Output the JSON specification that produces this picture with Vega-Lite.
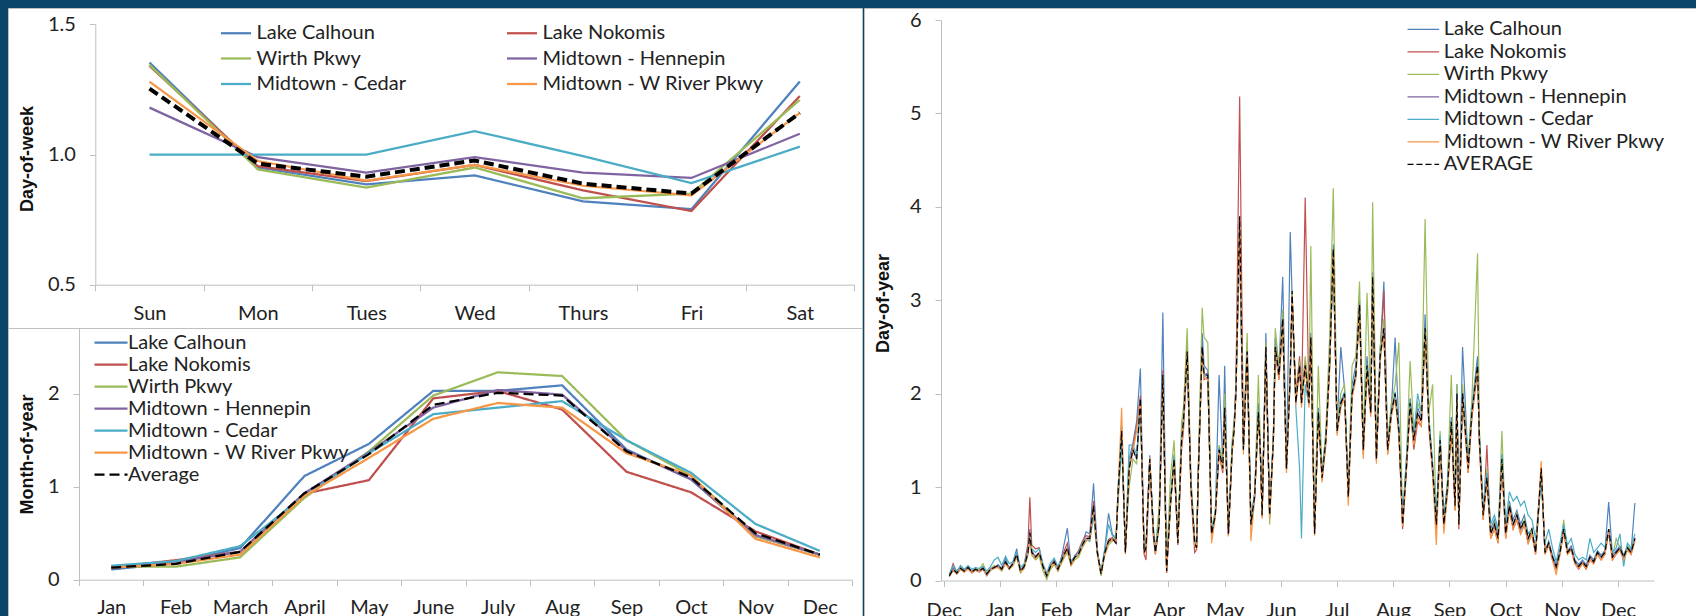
{
"$schema":"https://vega.github.io/schema/vega-lite/v6.json",
"background":"#0B4568",
"padding":{"top":7,"left":7,"right":0,"bottom":0},
"config":{
"view":{"fill":"white","stroke":"#BFBFBF","strokeWidth":1},
"font":"Lato",
"axis":{"grid":false,"domainColor":"#BFBFBF","tickColor":"#BFBFBF","tickSize":6,"labelFont":"Lato","labelFontSize":20,"labelColor":"#222222","titleFont":"Liberation Sans","titleFontSize":18,"titleFontWeight":"bold","titleColor":"#111111","labelPadding":14},
"axisX":{"labelBaseline":"alphabetic","labelAngle":0,"labelFlush":false,"labelOverlap":false},
"legend":{"labelFont":"Lato","labelFontSize":20,"labelColor":"#222222","padding":0}
},
"datasets":{
"names":[{"k":"C","series":"Lake Calhoun"},{"k":"N","series":"Lake Nokomis"},{"k":"W","series":"Wirth Pkwy"},{"k":"H","series":"Midtown - Hennepin"},{"k":"M","series":"Midtown - Cedar"},{"k":"R","series":"Midtown - W River Pkwy"},{"k":"A","series":"Average"}],
"names2":[{"k":"C","series":"Lake Calhoun"},{"k":"N","series":"Lake Nokomis"},{"k":"W","series":"Wirth Pkwy"},{"k":"H","series":"Midtown - Hennepin"},{"k":"M","series":"Midtown - Cedar"},{"k":"R","series":"Midtown - W River Pkwy"},{"k":"A","series":"AVERAGE"}],
"dow":[
{"x":0,"d":"Sun","C":1.353,"N":1.34,"W":1.344,"H":1.18,"M":1.0,"R":1.28,"A":1.253},
{"x":1,"d":"Mon","C":0.95,"N":0.955,"W":0.943,"H":0.99,"M":1.0,"R":0.975,"A":0.965},
{"x":2,"d":"Tues","C":0.885,"N":0.898,"W":0.873,"H":0.93,"M":1.0,"R":0.9,"A":0.915},
{"x":3,"d":"Wed","C":0.92,"N":0.96,"W":0.95,"H":0.99,"M":1.09,"R":0.96,"A":0.977},
{"x":4,"d":"Thurs","C":0.82,"N":0.862,"W":0.832,"H":0.93,"M":0.994,"R":0.88,"A":0.888},
{"x":5,"d":"Fri","C":0.79,"N":0.783,"W":0.85,"H":0.91,"M":0.89,"R":0.843,"A":0.85},
{"x":6,"d":"Sat","C":1.28,"N":1.225,"W":1.21,"H":1.08,"M":1.03,"R":1.16,"A":1.16}
],
"moy":[
{"x":0,"m":"Jan","C":0.11,"N":0.13,"W":0.14,"H":0.14,"M":0.15,"R":0.13,"A":0.13},
{"x":1,"m":"Feb","C":0.18,"N":0.21,"W":0.14,"H":0.19,"M":0.2,"R":0.17,"A":0.17},
{"x":2,"m":"March","C":0.34,"N":0.3,"W":0.24,"H":0.3,"M":0.36,"R":0.27,"A":0.3},
{"x":3,"m":"April","C":1.115,"N":0.925,"W":0.88,"H":0.93,"M":0.9,"R":0.9,"A":0.93},
{"x":4,"m":"May","C":1.46,"N":1.07,"W":1.38,"H":1.37,"M":1.36,"R":1.31,"A":1.35},
{"x":5,"m":"June","C":2.03,"N":1.95,"W":1.98,"H":1.85,"M":1.78,"R":1.73,"A":1.88},
{"x":6,"m":"July","C":2.03,"N":2.03,"W":2.23,"H":2.04,"M":1.85,"R":1.9,"A":2.01},
{"x":7,"m":"Aug","C":2.09,"N":1.83,"W":2.19,"H":1.99,"M":1.92,"R":1.85,"A":1.98},
{"x":8,"m":"Sep","C":1.4,"N":1.16,"W":1.5,"H":1.39,"M":1.5,"R":1.36,"A":1.38},
{"x":9,"m":"Oct","C":1.08,"N":0.94,"W":1.12,"H":1.08,"M":1.15,"R":1.12,"A":1.1},
{"x":10,"m":"Nov","C":0.47,"N":0.52,"W":0.47,"H":0.48,"M":0.6,"R":0.44,"A":0.5},
{"x":11,"m":"Dec","C":0.27,"N":0.27,"W":0.27,"H":0.27,"M":0.31,"R":0.24,"A":0.27}
],
"doy":[
{"i":3,"A":0.05,"C":0.06,"N":0.04,"W":0.05,"H":0.06,"M":0.07,"R":0.04},
{"i":5,"A":0.12,"C":0.14,"N":0.18,"W":0.10,"H":0.12,"M":0.16,"R":0.11},
{"i":7,"A":0.08,"C":0.07,"N":0.09,"W":0.10,"H":0.08,"M":0.10,"R":0.07},
{"i":9,"A":0.13,"C":0.12,"N":0.15,"W":0.14,"H":0.13,"M":0.16,"R":0.12},
{"i":11,"A":0.10,"C":0.09,"N":0.11,"W":0.12,"H":0.10,"M":0.12,"R":0.09},
{"i":13,"A":0.14,"C":0.15,"N":0.13,"W":0.15,"H":0.14,"M":0.16,"R":0.12},
{"i":15,"A":0.09,"C":0.08,"N":0.10,"W":0.09,"H":0.09,"M":0.12,"R":0.08},
{"i":17,"A":0.12,"C":0.11,"N":0.13,"W":0.13,"H":0.12,"M":0.14,"R":0.11},
{"i":19,"A":0.10,"C":0.09,"N":0.11,"W":0.12,"H":0.10,"M":0.13,"R":0.09},
{"i":21,"A":0.13,"C":0.12,"N":0.14,"W":0.18,"H":0.13,"M":0.15,"R":0.12},
{"i":23,"A":0.07,"C":0.05,"N":0.06,"W":0.08,"H":0.07,"M":0.10,"R":0.06},
{"i":25,"A":0.12,"C":0.11,"N":0.13,"W":0.12,"H":0.12,"M":0.15,"R":0.11},
{"i":27,"A":0.14,"C":0.13,"N":0.15,"W":0.16,"H":0.14,"M":0.22,"R":0.13},
{"i":29,"A":0.16,"C":0.17,"N":0.15,"W":0.14,"H":0.16,"M":0.25,"R":0.14},
{"i":31,"A":0.12,"C":0.13,"N":0.12,"W":0.10,"H":0.12,"M":0.16,"R":0.11},
{"i":33,"A":0.20,"C":0.24,"N":0.19,"W":0.18,"H":0.20,"M":0.26,"R":0.18},
{"i":35,"A":0.13,"C":0.12,"N":0.14,"W":0.12,"H":0.13,"M":0.18,"R":0.12},
{"i":37,"A":0.18,"C":0.20,"N":0.17,"W":0.16,"H":0.18,"M":0.20,"R":0.16},
{"i":39,"A":0.28,"C":0.34,"N":0.27,"W":0.25,"H":0.28,"M":0.30,"R":0.26},
{"i":41,"A":0.10,"C":0.09,"N":0.10,"W":0.08,"H":0.11,"M":0.14,"R":0.09},
{"i":43,"A":0.15,"C":0.14,"N":0.17,"W":0.13,"H":0.15,"M":0.18,"R":0.14},
{"i":45,"A":0.30,"C":0.35,"N":0.40,"W":0.28,"H":0.30,"M":0.33,"R":0.28},
{"i":46,"A":0.51,"C":0.55,"N":0.89,"W":0.45,"H":0.48,"M":0.50,"R":0.46},
{"i":47,"A":0.30,"C":0.32,"N":0.38,"W":0.27,"H":0.31,"M":0.34,"R":0.28},
{"i":49,"A":0.25,"C":0.24,"N":0.34,"W":0.22,"H":0.26,"M":0.30,"R":0.24},
{"i":51,"A":0.30,"C":0.28,"N":0.35,"W":0.26,"H":0.30,"M":0.34,"R":0.29},
{"i":53,"A":0.15,"C":0.14,"N":0.16,"W":0.10,"H":0.15,"M":0.18,"R":0.14},
{"i":55,"A":0.05,"C":0.04,"N":0.06,"W":0.01,"H":0.06,"M":0.08,"R":0.05},
{"i":57,"A":0.15,"C":0.14,"N":0.16,"W":0.12,"H":0.15,"M":0.19,"R":0.14},
{"i":59,"A":0.20,"C":0.22,"N":0.21,"W":0.17,"H":0.20,"M":0.24,"R":0.19},
{"i":61,"A":0.12,"C":0.11,"N":0.13,"W":0.10,"H":0.12,"M":0.15,"R":0.11},
{"i":63,"A":0.22,"C":0.26,"N":0.25,"W":0.19,"H":0.22,"M":0.24,"R":0.20},
{"i":66,"A":0.35,"C":0.56,"N":0.40,"W":0.30,"H":0.35,"M":0.33,"R":0.33},
{"i":68,"A":0.18,"C":0.17,"N":0.20,"W":0.16,"H":0.18,"M":0.20,"R":0.16},
{"i":70,"A":0.25,"C":0.27,"N":0.26,"W":0.22,"H":0.25,"M":0.26,"R":0.24},
{"i":72,"A":0.28,"C":0.30,"N":0.32,"W":0.25,"H":0.28,"M":0.30,"R":0.27},
{"i":74,"A":0.38,"C":0.40,"N":0.42,"W":0.35,"H":0.38,"M":0.40,"R":0.36},
{"i":76,"A":0.45,"C":0.52,"N":0.48,"W":0.42,"H":0.45,"M":0.44,"R":0.43},
{"i":78,"A":0.45,"C":0.50,"N":0.47,"W":0.44,"H":0.45,"M":0.42,"R":0.44},
{"i":80,"A":0.80,"C":1.04,"N":0.85,"W":0.72,"H":0.78,"M":0.70,"R":0.77},
{"i":82,"A":0.30,"C":0.32,"N":0.33,"W":0.28,"H":0.31,"M":0.30,"R":0.29},
{"i":84,"A":0.07,"C":0.08,"N":0.06,"W":0.05,"H":0.08,"M":0.10,"R":0.07},
{"i":86,"A":0.30,"C":0.34,"N":0.31,"W":0.27,"H":0.30,"M":0.33,"R":0.29},
{"i":88,"A":0.42,"C":0.72,"N":0.44,"W":0.38,"H":0.42,"M":0.60,"R":0.40},
{"i":90,"A":0.45,"C":0.50,"N":0.46,"W":0.42,"H":0.45,"M":0.48,"R":0.44},
{"i":92,"A":0.40,"C":0.44,"N":0.42,"W":0.50,"H":0.40,"M":0.45,"R":0.42},
{"i":93,"A":0.90,"C":0.95,"N":0.92,"W":0.80,"H":0.88,"M":0.85,"R":0.93},
{"i":95,"A":1.60,"C":1.65,"N":1.55,"W":1.45,"H":1.58,"M":1.50,"R":1.85},
{"i":97,"A":0.30,"C":0.33,"N":0.31,"W":0.40,"H":0.30,"M":0.35,"R":0.28},
{"i":99,"A":1.20,"C":1.30,"N":1.22,"W":1.00,"H":1.18,"M":1.45,"R":1.20},
{"i":101,"A":1.40,"C":1.47,"N":1.42,"W":1.30,"H":1.40,"M":1.45,"R":1.38},
{"i":103,"A":1.30,"C":1.70,"N":1.65,"W":1.25,"H":1.30,"M":1.35,"R":1.60},
{"i":105,"A":1.95,"C":2.27,"N":1.98,"W":1.85,"H":1.92,"M":1.90,"R":1.94},
{"i":107,"A":0.30,"C":0.32,"N":0.28,"W":0.35,"H":0.31,"M":0.33,"R":0.29},
{"i":108,"A":0.35,"C":0.36,"N":0.22,"W":0.38,"H":0.35,"M":0.38,"R":0.34},
{"i":110,"A":1.30,"C":1.34,"N":1.22,"W":1.25,"H":1.30,"M":1.28,"R":1.32},
{"i":112,"A":0.50,"C":0.52,"N":0.45,"W":0.55,"H":0.50,"M":0.55,"R":0.48},
{"i":113,"A":0.30,"C":0.32,"N":0.28,"W":0.33,"H":0.30,"M":0.33,"R":0.29},
{"i":115,"A":0.60,"C":0.63,"N":0.58,"W":0.80,"H":0.60,"M":0.65,"R":0.58},
{"i":117,"A":2.20,"C":2.87,"N":2.25,"W":2.15,"H":2.15,"M":2.10,"R":2.18},
{"i":119,"A":0.10,"C":0.10,"N":0.08,"W":0.15,"H":0.11,"M":0.12,"R":0.09},
{"i":121,"A":0.80,"C":0.85,"N":0.78,"W":1.10,"H":0.80,"M":0.82,"R":0.78},
{"i":123,"A":1.30,"C":1.35,"N":1.28,"W":1.50,"H":1.30,"M":1.32,"R":1.28},
{"i":125,"A":0.40,"C":0.42,"N":0.38,"W":0.45,"H":0.40,"M":0.42,"R":0.39},
{"i":127,"A":1.50,"C":1.55,"N":1.40,"W":1.70,"H":1.50,"M":1.52,"R":1.45},
{"i":128,"A":1.70,"C":1.75,"N":1.60,"W":1.85,"H":1.70,"M":1.72,"R":1.68},
{"i":130,"A":2.45,"C":2.55,"N":2.40,"W":2.70,"H":2.42,"M":2.35,"R":2.45},
{"i":132,"A":1.00,"C":1.05,"N":0.95,"W":1.10,"H":1.00,"M":1.02,"R":0.98},
{"i":134,"A":0.40,"C":0.42,"N":0.30,"W":0.45,"H":0.40,"M":0.43,"R":0.38},
{"i":135,"A":0.35,"C":0.37,"N":0.33,"W":0.38,"H":0.35,"M":0.38,"R":0.34},
{"i":136,"A":1.20,"C":1.25,"N":1.18,"W":1.30,"H":1.20,"M":1.22,"R":1.18},
{"i":138,"A":2.50,"C":2.65,"N":2.48,"W":2.92,"H":2.50,"M":2.45,"R":2.45},
{"i":139,"A":2.20,"C":2.30,"N":2.15,"W":2.60,"H":2.20,"M":2.18,"R":2.17},
{"i":141,"A":2.20,"C":2.25,"N":2.18,"W":2.55,"H":2.22,"M":2.20,"R":2.15},
{"i":143,"A":0.50,"C":0.52,"N":0.48,"W":0.55,"H":0.50,"M":0.55,"R":0.40},
{"i":145,"A":0.70,"C":0.72,"N":0.68,"W":0.75,"H":0.70,"M":0.72,"R":0.68},
{"i":147,"A":1.40,"C":2.20,"N":1.35,"W":1.45,"H":1.40,"M":1.42,"R":1.38},
{"i":149,"A":1.20,"C":1.25,"N":1.15,"W":1.30,"H":1.20,"M":1.22,"R":1.18},
{"i":150,"A":1.85,"C":2.30,"N":1.80,"W":2.00,"H":1.85,"M":1.83,"R":1.82},
{"i":152,"A":0.50,"C":0.52,"N":0.48,"W":0.55,"H":0.50,"M":0.55,"R":0.47},
{"i":154,"A":1.40,"C":1.45,"N":1.38,"W":1.50,"H":1.40,"M":1.42,"R":1.38},
{"i":155,"A":1.60,"C":1.65,"N":1.60,"W":1.70,"H":1.60,"M":1.62,"R":1.58},
{"i":156,"A":2.00,"C":2.10,"N":2.10,"W":2.05,"H":2.00,"M":2.00,"R":1.98},
{"i":158,"A":3.90,"C":3.85,"N":5.18,"W":3.80,"H":3.70,"M":3.60,"R":3.80},
{"i":160,"A":1.40,"C":1.45,"N":1.50,"W":1.40,"H":1.40,"M":1.42,"R":1.35},
{"i":162,"A":2.45,"C":2.55,"N":2.45,"W":2.65,"H":2.45,"M":2.40,"R":2.40},
{"i":164,"A":0.60,"C":0.65,"N":0.58,"W":0.62,"H":0.60,"M":0.62,"R":0.42},
{"i":166,"A":0.90,"C":0.95,"N":0.88,"W":0.92,"H":0.90,"M":0.92,"R":0.88},
{"i":168,"A":1.80,"C":1.90,"N":1.78,"W":2.20,"H":1.80,"M":1.82,"R":1.75},
{"i":169,"A":1.40,"C":1.45,"N":1.38,"W":1.50,"H":1.40,"M":1.42,"R":1.38},
{"i":170,"A":0.70,"C":0.72,"N":0.68,"W":0.72,"H":0.70,"M":0.72,"R":0.66},
{"i":172,"A":2.50,"C":2.65,"N":2.50,"W":2.55,"H":2.48,"M":2.45,"R":2.45},
{"i":174,"A":0.70,"C":0.72,"N":0.68,"W":0.60,"H":0.70,"M":0.72,"R":0.66},
{"i":176,"A":1.50,"C":1.55,"N":1.48,"W":1.60,"H":1.50,"M":1.52,"R":1.45},
{"i":177,"A":2.50,"C":2.60,"N":2.45,"W":2.70,"H":2.50,"M":2.45,"R":2.48},
{"i":179,"A":2.20,"C":2.28,"N":2.15,"W":2.30,"H":2.20,"M":2.18,"R":2.15},
{"i":181,"A":2.80,"C":3.25,"N":2.75,"W":2.90,"H":2.80,"M":2.70,"R":2.75},
{"i":183,"A":1.20,"C":1.25,"N":1.18,"W":1.30,"H":1.20,"M":1.22,"R":1.15},
{"i":185,"A":2.20,"C":3.73,"N":2.20,"W":2.30,"H":2.20,"M":2.15,"R":2.15},
{"i":186,"A":3.10,"C":3.05,"N":3.00,"W":3.10,"H":3.00,"M":3.00,"R":3.05},
{"i":188,"A":1.90,"C":1.95,"N":2.00,"W":1.95,"H":1.90,"M":1.85,"R":1.88},
{"i":190,"A":2.30,"C":2.35,"N":2.40,"W":2.35,"H":2.30,"M":1.20,"R":2.28},
{"i":191,"A":1.90,"C":1.95,"N":1.90,"W":1.95,"H":1.90,"M":0.45,"R":1.85},
{"i":193,"A":2.30,"C":2.35,"N":4.10,"W":2.40,"H":2.30,"M":2.10,"R":2.28},
{"i":195,"A":1.90,"C":1.95,"N":1.90,"W":2.00,"H":1.90,"M":1.88,"R":1.85},
{"i":196,"A":2.60,"C":2.65,"N":2.60,"W":3.58,"H":2.60,"M":2.55,"R":2.58},
{"i":198,"A":0.50,"C":0.52,"N":0.55,"W":0.55,"H":0.50,"M":0.55,"R":0.48},
{"i":200,"A":1.80,"C":1.85,"N":1.78,"W":2.30,"H":1.80,"M":1.82,"R":1.75},
{"i":202,"A":1.10,"C":1.15,"N":1.08,"W":1.15,"H":1.10,"M":1.12,"R":1.05},
{"i":204,"A":1.50,"C":1.55,"N":1.48,"W":1.60,"H":1.50,"M":1.52,"R":1.45},
{"i":206,"A":2.30,"C":2.35,"N":2.25,"W":2.60,"H":2.30,"M":2.28,"R":2.25},
{"i":208,"A":3.55,"C":3.60,"N":3.50,"W":4.20,"H":3.50,"M":3.40,"R":3.50},
{"i":210,"A":1.60,"C":1.65,"N":1.58,"W":1.70,"H":1.60,"M":1.62,"R":1.55},
{"i":212,"A":1.90,"C":2.50,"N":1.88,"W":2.00,"H":1.90,"M":1.92,"R":1.85},
{"i":214,"A":2.00,"C":2.05,"N":1.98,"W":2.10,"H":2.00,"M":2.02,"R":1.95},
{"i":216,"A":0.90,"C":0.95,"N":0.88,"W":0.95,"H":0.90,"M":0.92,"R":0.80},
{"i":218,"A":2.00,"C":2.10,"N":1.98,"W":2.30,"H":2.00,"M":2.02,"R":1.95},
{"i":220,"A":2.20,"C":2.30,"N":2.18,"W":2.40,"H":2.20,"M":2.22,"R":2.15},
{"i":222,"A":2.95,"C":3.00,"N":2.90,"W":3.20,"H":2.95,"M":2.90,"R":2.90},
{"i":224,"A":1.40,"C":1.45,"N":1.35,"W":1.50,"H":1.40,"M":1.42,"R":1.30},
{"i":226,"A":2.30,"C":2.40,"N":2.28,"W":3.08,"H":2.30,"M":2.32,"R":2.25},
{"i":228,"A":1.80,"C":1.85,"N":1.78,"W":1.90,"H":1.80,"M":1.82,"R":1.75},
{"i":229,"A":3.25,"C":3.30,"N":3.20,"W":4.05,"H":3.20,"M":3.15,"R":3.20},
{"i":231,"A":1.30,"C":1.35,"N":1.28,"W":1.40,"H":1.30,"M":1.32,"R":1.25},
{"i":233,"A":2.40,"C":2.45,"N":2.38,"W":2.50,"H":2.40,"M":2.42,"R":2.35},
{"i":235,"A":2.70,"C":3.20,"N":3.10,"W":2.80,"H":2.70,"M":2.65,"R":2.65},
{"i":237,"A":1.40,"C":1.45,"N":1.35,"W":1.50,"H":1.40,"M":1.42,"R":1.35},
{"i":239,"A":1.80,"C":1.85,"N":1.78,"W":1.90,"H":1.80,"M":1.82,"R":1.75},
{"i":241,"A":2.00,"C":2.60,"N":1.98,"W":2.10,"H":2.00,"M":2.02,"R":1.95},
{"i":243,"A":1.60,"C":1.65,"N":1.58,"W":2.55,"H":1.60,"M":1.62,"R":1.55},
{"i":245,"A":0.60,"C":0.65,"N":0.55,"W":0.62,"H":0.60,"M":0.70,"R":0.58},
{"i":247,"A":1.20,"C":1.25,"N":1.18,"W":1.30,"H":1.20,"M":1.30,"R":1.15},
{"i":249,"A":1.90,"C":1.95,"N":1.88,"W":2.35,"H":1.90,"M":1.92,"R":1.85},
{"i":251,"A":1.50,"C":1.55,"N":1.40,"W":1.60,"H":1.50,"M":1.55,"R":1.45},
{"i":253,"A":1.80,"C":1.85,"N":1.70,"W":1.90,"H":1.80,"M":2.00,"R":1.75},
{"i":255,"A":1.70,"C":1.75,"N":1.65,"W":1.80,"H":1.70,"M":1.80,"R":1.65},
{"i":257,"A":2.70,"C":2.85,"N":2.65,"W":3.87,"H":2.70,"M":2.65,"R":2.65},
{"i":259,"A":1.70,"C":1.75,"N":1.65,"W":1.80,"H":1.70,"M":1.75,"R":1.65},
{"i":261,"A":1.20,"C":1.25,"N":1.15,"W":2.10,"H":1.20,"M":1.25,"R":1.15},
{"i":263,"A":0.60,"C":0.65,"N":0.55,"W":0.62,"H":0.60,"M":0.65,"R":0.38},
{"i":265,"A":1.50,"C":1.55,"N":1.45,"W":1.60,"H":1.50,"M":1.55,"R":1.45},
{"i":267,"A":0.60,"C":0.65,"N":0.55,"W":0.62,"H":0.60,"M":0.65,"R":0.50},
{"i":269,"A":1.00,"C":1.05,"N":0.95,"W":1.10,"H":1.00,"M":1.05,"R":0.95},
{"i":271,"A":1.70,"C":1.75,"N":1.65,"W":2.20,"H":1.70,"M":1.72,"R":1.65},
{"i":273,"A":0.80,"C":0.85,"N":0.75,"W":0.82,"H":0.80,"M":0.85,"R":0.75},
{"i":274,"A":2.00,"C":2.10,"N":1.95,"W":2.10,"H":2.00,"M":2.00,"R":1.95},
{"i":275,"A":0.60,"C":0.65,"N":0.55,"W":0.65,"H":0.60,"M":0.65,"R":0.58},
{"i":277,"A":2.00,"C":2.50,"N":1.95,"W":2.10,"H":2.00,"M":2.00,"R":1.95},
{"i":280,"A":1.20,"C":1.25,"N":1.15,"W":1.30,"H":1.20,"M":1.25,"R":1.15},
{"i":282,"A":1.80,"C":1.85,"N":1.75,"W":1.95,"H":1.80,"M":1.85,"R":1.75},
{"i":285,"A":2.30,"C":2.40,"N":2.25,"W":3.50,"H":2.30,"M":2.30,"R":2.25},
{"i":286,"A":1.50,"C":1.55,"N":1.45,"W":1.60,"H":1.50,"M":1.55,"R":1.45},
{"i":288,"A":0.70,"C":0.75,"N":0.65,"W":0.72,"H":0.70,"M":0.80,"R":0.65},
{"i":290,"A":1.10,"C":1.15,"N":1.45,"W":1.20,"H":1.10,"M":1.15,"R":1.05},
{"i":292,"A":0.50,"C":0.55,"N":0.45,"W":0.52,"H":0.50,"M":0.60,"R":0.45},
{"i":294,"A":0.60,"C":0.65,"N":0.55,"W":0.62,"H":0.60,"M":0.70,"R":0.55},
{"i":296,"A":0.45,"C":0.50,"N":0.40,"W":0.48,"H":0.45,"M":0.55,"R":0.40},
{"i":298,"A":1.30,"C":1.35,"N":1.25,"W":1.60,"H":1.30,"M":1.35,"R":1.25},
{"i":300,"A":0.50,"C":0.55,"N":0.45,"W":0.52,"H":0.50,"M":0.60,"R":0.45},
{"i":302,"A":0.80,"C":0.85,"N":0.75,"W":0.82,"H":0.80,"M":0.95,"R":0.75},
{"i":304,"A":0.60,"C":0.65,"N":0.55,"W":0.60,"H":0.60,"M":0.85,"R":0.55},
{"i":306,"A":0.70,"C":0.75,"N":0.65,"W":0.72,"H":0.70,"M":0.90,"R":0.65},
{"i":308,"A":0.55,"C":0.60,"N":0.50,"W":0.55,"H":0.55,"M":0.80,"R":0.50},
{"i":310,"A":0.65,"C":0.70,"N":0.60,"W":0.65,"H":0.60,"M":0.85,"R":0.60},
{"i":312,"A":0.45,"C":0.50,"N":0.40,"W":0.45,"H":0.45,"M":0.70,"R":0.40},
{"i":314,"A":0.55,"C":0.55,"N":0.50,"W":0.55,"H":0.50,"M":0.65,"R":0.50},
{"i":316,"A":0.30,"C":0.32,"N":0.28,"W":0.30,"H":0.30,"M":0.45,"R":0.28},
{"i":319,"A":1.20,"C":1.15,"N":1.20,"W":1.10,"H":1.15,"M":1.10,"R":1.28},
{"i":321,"A":0.30,"C":0.32,"N":0.28,"W":0.30,"H":0.30,"M":0.40,"R":0.28},
{"i":323,"A":0.40,"C":0.42,"N":0.38,"W":0.40,"H":0.40,"M":0.55,"R":0.38},
{"i":325,"A":0.25,"C":0.27,"N":0.22,"W":0.25,"H":0.25,"M":0.35,"R":0.22},
{"i":327,"A":0.15,"C":0.17,"N":0.12,"W":0.14,"H":0.15,"M":0.20,"R":0.06},
{"i":329,"A":0.30,"C":0.32,"N":0.28,"W":0.30,"H":0.30,"M":0.40,"R":0.28},
{"i":331,"A":0.55,"C":0.58,"N":0.52,"W":0.65,"H":0.55,"M":0.60,"R":0.52},
{"i":333,"A":0.30,"C":0.32,"N":0.28,"W":0.30,"H":0.30,"M":0.38,"R":0.28},
{"i":335,"A":0.35,"C":0.37,"N":0.33,"W":0.35,"H":0.35,"M":0.45,"R":0.33},
{"i":337,"A":0.20,"C":0.22,"N":0.18,"W":0.20,"H":0.20,"M":0.28,"R":0.18},
{"i":339,"A":0.15,"C":0.17,"N":0.12,"W":0.15,"H":0.15,"M":0.22,"R":0.13},
{"i":341,"A":0.20,"C":0.22,"N":0.18,"W":0.20,"H":0.20,"M":0.25,"R":0.18},
{"i":343,"A":0.15,"C":0.17,"N":0.12,"W":0.14,"H":0.15,"M":0.22,"R":0.13},
{"i":345,"A":0.25,"C":0.27,"N":0.22,"W":0.25,"H":0.25,"M":0.45,"R":0.22},
{"i":347,"A":0.20,"C":0.22,"N":0.18,"W":0.20,"H":0.20,"M":0.30,"R":0.18},
{"i":349,"A":0.30,"C":0.32,"N":0.28,"W":0.30,"H":0.30,"M":0.35,"R":0.28},
{"i":351,"A":0.25,"C":0.27,"N":0.22,"W":0.25,"H":0.25,"M":0.40,"R":0.22},
{"i":353,"A":0.30,"C":0.32,"N":0.28,"W":0.30,"H":0.30,"M":0.35,"R":0.28},
{"i":355,"A":0.55,"C":0.84,"N":0.52,"W":0.55,"H":0.55,"M":0.50,"R":0.52},
{"i":357,"A":0.25,"C":0.27,"N":0.22,"W":0.25,"H":0.25,"M":0.30,"R":0.22},
{"i":359,"A":0.30,"C":0.32,"N":0.28,"W":0.45,"H":0.30,"M":0.35,"R":0.28},
{"i":361,"A":0.35,"C":0.37,"N":0.33,"W":0.35,"H":0.35,"M":0.50,"R":0.33},
{"i":363,"A":0.25,"C":0.27,"N":0.22,"W":0.25,"H":0.25,"M":0.15,"R":0.22},
{"i":365,"A":0.35,"C":0.37,"N":0.33,"W":0.38,"H":0.35,"M":0.40,"R":0.33},
{"i":367,"A":0.30,"C":0.32,"N":0.28,"W":0.30,"H":0.30,"M":0.35,"R":0.28},
{"i":369,"A":0.45,"C":0.83,"N":0.43,"W":0.45,"H":0.45,"M":0.50,"R":0.42}
]
},
"spacing":0,
"resolve":{"scale":{"color":"independent","strokeDash":"independent","strokeWidth":"independent"},"legend":{"color":"independent","strokeDash":"independent","strokeWidth":"independent"}},
"hconcat":[
{"spacing":0,"bounds":"flush",
"resolve":{"scale":{"color":"independent","strokeDash":"independent","strokeWidth":"independent"},"legend":{"color":"independent","strokeDash":"independent","strokeWidth":"independent"}},
"vconcat":[
{
"width":854,"height":320,
"data":{"name":"dow"},
"transform":[{"fold":["C","N","W","H","M","R","A"],"as":["k","v"]},{"lookup":"k","from":{"data":{"name":"names"},"key":"k","fields":["series"]}}],
"encoding":{
"x":{"field":"x","type":"quantitative","scale":{"domain":[-0.5,6.5],"range":[87.3,846],"nice":false,"zero":false},"axis":{"title":null,"values":[-0.5,0,0.5,1,1.5,2,2.5,3,3.5,4,4.5,5,5.5,6,6.5],"labelExpr":"datum.value % 1 === 0 ? ['Sun','Mon','Tues','Wed','Thurs','Fri','Sat'][datum.value] : ''","tickOpacity":{"condition":{"test":"datum.value % 1 === 0","value":0},"value":1},"offset":-43.3,"labelPadding":29}},
"y":{"field":"v","type":"quantitative","scale":{"domain":[0.5,1.5],"range":[276.7,16.3],"nice":false,"zero":false},"axis":{"values":[0.5,1.0,1.5],"format":".1f","offset":-87.3,"title":"Day-of-week","titleX":-68.3,"titleY":150.5,"titleAngle":-90,"titleAlign":"center","titleBaseline":"middle"}}
},
"layer":[
{"transform":[{"filter":"datum.k !== 'A'"}],"mark":{"type":"line","strokeWidth":2.25},
"encoding":{"color":{"field":"series","type":"nominal","scale":{"domain":["Lake Calhoun","Lake Nokomis","Wirth Pkwy","Midtown - Hennepin","Midtown - Cedar","Midtown - W River Pkwy"],"range":["#4F81BD","#C0504D","#9BBB59","#8064A2","#4BACC6","#F79646"]},"legend":{"title":null,"orient":"none","legendX":216.5,"legendY":13.5,"direction":"horizontal","columns":2,"columnPadding":96,"rowPadding":3.5,"symbolType":"M-1.5,0H1.5","symbolSize":400,"symbolStrokeWidth":2.25,"labelOffset":9,"labelLimit":400}}}},
{"transform":[{"filter":"datum.k === 'A'"}],"mark":{"type":"line","color":"black","strokeWidth":4,"strokeDash":[10,5]},"encoding":{}}
]
},
{
"width":854,"height":289,
"data":{"name":"moy"},
"transform":[{"fold":["C","N","W","H","M","R","A"],"as":["k","v"]},{"lookup":"k","from":{"data":{"name":"names"},"key":"k","fields":["series"]}}],
"encoding":{
"x":{"field":"x","type":"quantitative","scale":{"domain":[-0.5,11.5],"range":[71,844],"nice":false,"zero":false},"axis":{"title":null,"values":[-0.5,0,0.5,1,1.5,2,2.5,3,3.5,4,4.5,5,5.5,6,6.5,7,7.5,8,8.5,9,9.5,10,10.5,11,11.5],"labelExpr":"datum.value % 1 === 0 ? ['Jan','Feb','March','April','May','June','July','Aug','Sep','Oct','Nov','Dec'][datum.value] : ''","tickOpacity":{"condition":{"test":"datum.value % 1 === 0","value":0},"value":1},"offset":-37.3,"labelPadding":28}},
"y":{"field":"v","type":"quantitative","scale":{"domain":[0,2.7],"range":[251.7,0.6],"nice":false,"zero":false},"axis":{"values":[0,1,2],"format":"d","offset":-71,"title":"Month-of-year","titleX":-52,"titleY":126,"titleAngle":-90,"titleAlign":"center","titleBaseline":"middle"}},
"color":{"field":"series","type":"nominal","scale":{"domain":["Lake Calhoun","Lake Nokomis","Wirth Pkwy","Midtown - Hennepin","Midtown - Cedar","Midtown - W River Pkwy","Average"],"range":["#4F81BD","#C0504D","#9BBB59","#8064A2","#4BACC6","#F79646","#000000"]},"legend":{"title":null,"orient":"none","legendX":91.5,"legendY":3,"rowPadding":0,"symbolType":"M-1.65,0H1.65","symbolSize":400,"labelOffset":5.5,"labelLimit":400}},
"strokeDash":{"field":"series","type":"nominal","scale":{"domain":["Lake Calhoun","Lake Nokomis","Wirth Pkwy","Midtown - Hennepin","Midtown - Cedar","Midtown - W River Pkwy","Average"],"range":[[1,0],[1,0],[1,0],[1,0],[1,0],[1,0],[10,5]]},"legend":{"title":null,"orient":"none","legendX":91.5,"legendY":3,"rowPadding":0,"symbolType":"M-1.65,0H1.65","symbolSize":400,"labelOffset":5.5,"labelLimit":400}},
"strokeWidth":{"field":"series","type":"nominal","scale":{"domain":["Lake Calhoun","Lake Nokomis","Wirth Pkwy","Midtown - Hennepin","Midtown - Cedar","Midtown - W River Pkwy","Average"],"range":[2.25,2.25,2.25,2.25,2.25,2.25,4]},"legend":{"title":null,"orient":"none","legendX":91.5,"legendY":3,"rowPadding":0,"symbolType":"M-1.65,0H1.65","symbolSize":400,"labelOffset":5.5,"labelLimit":400}}
},
"layer":[
{"transform":[{"filter":"datum.k !== 'A'"}],"mark":{"type":"line"}},
{"transform":[{"filter":"datum.k === 'A'"}],"mark":{"type":"line"}}
]
}
]},
{
"width":835,"height":609,
"data":{"name":"doy"},
"transform":[{"fold":["C","N","W","H","M","R","A"],"as":["k","v"]},{"lookup":"k","from":{"data":{"name":"names2"},"key":"k","fields":["series"]}}],
"encoding":{
"x":{"field":"i","type":"quantitative","scale":{"domain":[-1.44,379.2],"range":[77,790],"nice":false,"zero":false},"axis":{"title":null,"values":[0,30,60,90,120,150,180,210,240,270,300,330,360],"labelExpr":"['Dec','Jan','Feb','Mar','Apr','May','Jun','Jul','Aug','Sep','Oct','Nov','Dec'][round(datum.value/30)]","offset":-36.5,"labelPadding":29.5}},
"y":{"field":"v","type":"quantitative","scale":{"domain":[0,6],"range":[572.5,12],"nice":false,"zero":false},"axis":{"values":[0,1,2,3,4,5,6],"format":"d","offset":-77,"title":"Day-of-year","titleX":-58,"titleY":295,"titleAngle":-90,"titleAlign":"center","titleBaseline":"middle"}},
"color":{"field":"series","type":"nominal","scale":{"domain":["Lake Calhoun","Lake Nokomis","Wirth Pkwy","Midtown - Hennepin","Midtown - Cedar","Midtown - W River Pkwy","AVERAGE"],"range":["#4F81BD","#C0504D","#9BBB59","#8064A2","#4BACC6","#F79646","#000000"]},"legend":{"title":null,"orient":"none","legendX":548.3,"legendY":10.3,"rowPadding":1.5,"symbolType":"M-1.58,0H1.58","symbolSize":400,"labelOffset":9.4,"labelLimit":400}},
"strokeDash":{"field":"series","type":"nominal","scale":{"domain":["Lake Calhoun","Lake Nokomis","Wirth Pkwy","Midtown - Hennepin","Midtown - Cedar","Midtown - W River Pkwy","AVERAGE"],"range":[[1,0],[1,0],[1,0],[1,0],[1,0],[1,0],[6,3]]},"legend":{"title":null,"orient":"none","legendX":548.3,"legendY":10.3,"rowPadding":1.5,"symbolType":"M-1.58,0H1.58","symbolSize":400,"labelOffset":9.4,"labelLimit":400}},
"strokeWidth":{"field":"series","type":"nominal","scale":{"domain":["Lake Calhoun","Lake Nokomis","Wirth Pkwy","Midtown - Hennepin","Midtown - Cedar","Midtown - W River Pkwy","AVERAGE"],"range":[1.2,1.2,1.2,1.2,1.2,1.2,3]},"legend":{"title":null,"orient":"none","legendX":548.3,"legendY":10.3,"rowPadding":1.5,"symbolType":"M-1.58,0H1.58","symbolSize":400,"labelOffset":9.4,"labelLimit":400}}
},
"layer":[
{"transform":[{"filter":"datum.k !== 'A'"}],"mark":{"type":"line"}},
{"transform":[{"filter":"datum.k === 'A'"}],"mark":{"type":"line"}}
]
}
]
}
